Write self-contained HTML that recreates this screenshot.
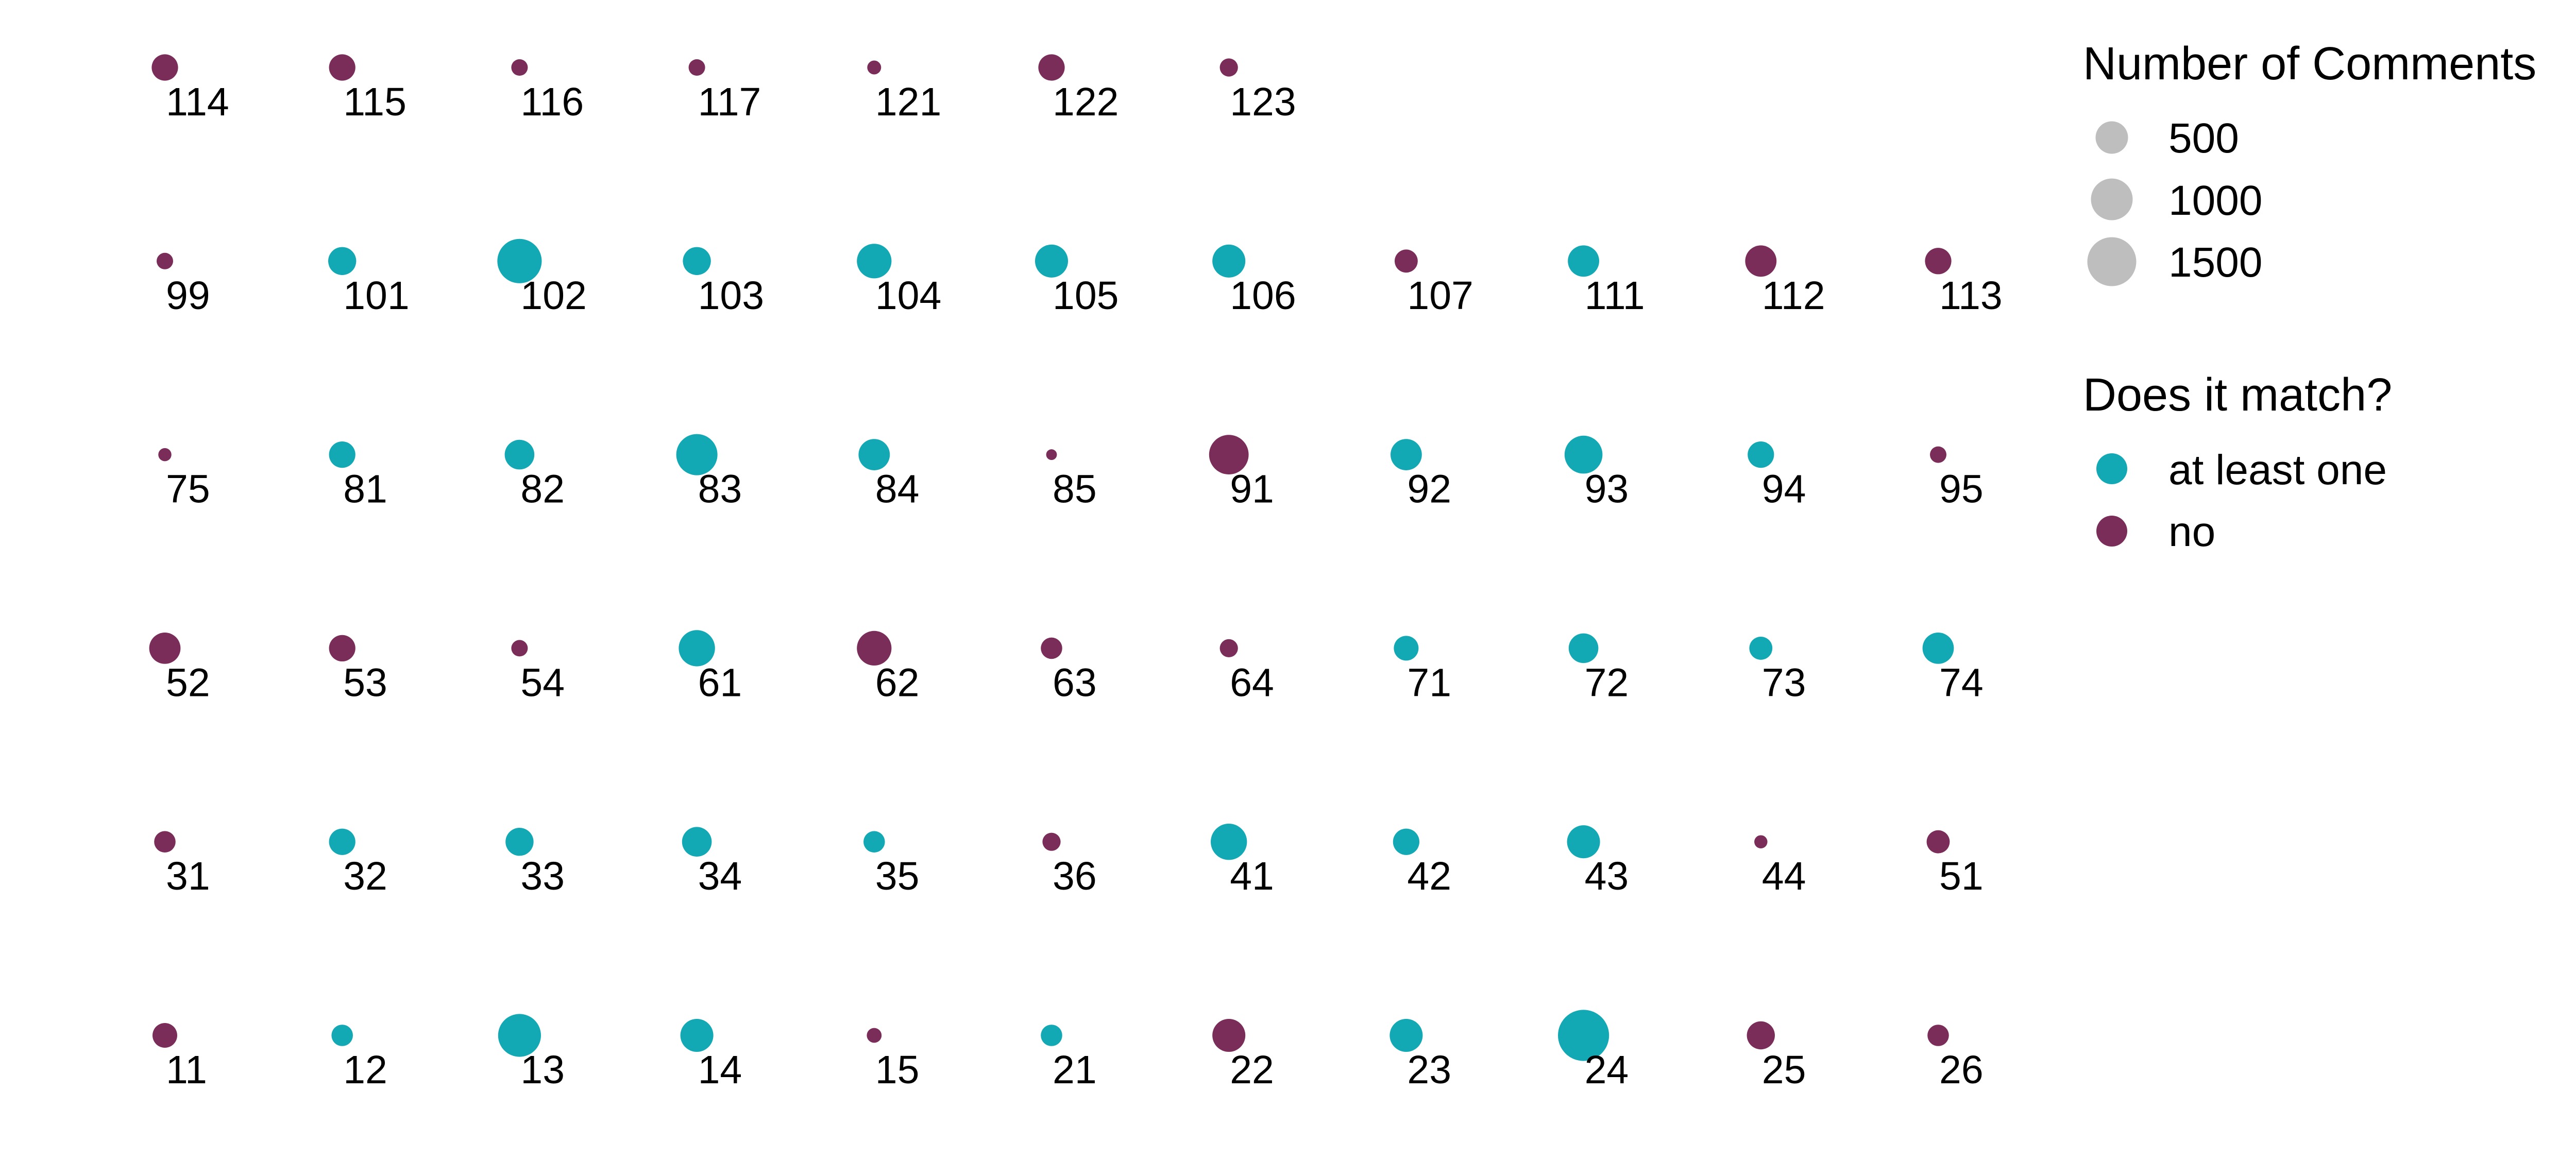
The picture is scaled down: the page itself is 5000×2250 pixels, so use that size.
<!DOCTYPE html>
<html><head><meta charset="utf-8"><style>
html,body{margin:0;padding:0;background:#fff;}
svg{display:block;font-family:"Liberation Sans",Arial,sans-serif;}
</style></head><body>
<svg id="chart" width="5000" height="2250" viewBox="0 0 5000 2250" xmlns="http://www.w3.org/2000/svg">
<rect width="5000" height="2250" fill="#fff"/>
<g id="points"></g>
<g>
<text x="4043" y="154" font-size="90">Number of Comments</text>
<circle cx="4099" cy="267" r="31.5" fill="#bebebe"/>
<circle cx="4099" cy="387" r="40.5" fill="#bebebe"/>
<circle cx="4099" cy="508" r="47.5" fill="#bebebe"/>
<text x="4209" y="296" font-size="82">500</text>
<text x="4209" y="417" font-size="82">1000</text>
<text x="4209" y="537" font-size="82">1500</text>
</g>
<g>
<text x="4043" y="797" font-size="90">Does it match?</text>
<circle cx="4099" cy="910" r="30" fill="#12a9b5"/>
<circle cx="4099" cy="1031" r="30" fill="#7b2d5a"/>
<text x="4209" y="940" font-size="82">at least one</text>
<text x="4209" y="1060" font-size="82">no</text>
</g>
</svg>
<script>
const labels = [
 ["114","115","116","117","121","122","123"],
 ["99","101","102","103","104","105","106","107","111","112","113"],
 ["75","81","82","83","84","85","91","92","93","94","95"],
 ["52","53","54","61","62","63","64","71","72","73","74"],
 ["31","32","33","34","35","36","41","42","43","44","51"],
 ["11","12","13","14","15","21","22","23","24","25","26"]
];
const comments = [
 [276,276,49,49,20,276,74],
 [49,331,1160,331,605,530,530,180,458,458,276],
 [14,276,392,961,458,2,864,458,773,276,49],
 [458,276,49,686,605,139,74,225,392,180,458],
 [139,276,331,392,139,74,686,276,530,14,180],
 [225,139,1063,530,29,139,530,530,1648,331,139]
];
const matches = [
 ["no","no","no","no","no","no","no"],
 ["no","yes","yes","yes","yes","yes","yes","no","yes","no","no"],
 ["no","yes","yes","yes","yes","no","no","yes","yes","yes","no"],
 ["no","no","no","yes","no","no","no","yes","yes","yes","yes"],
 ["no","yes","yes","yes","yes","no","yes","yes","yes","no","no"],
 ["no","yes","yes","yes","no","yes","no","yes","yes","no","no"]
];
const colX = c => 320 + c * 344.2;
const rowY = r => 131 + r * 375.8;
const sizeR = v => 9 + Math.sqrt(Math.max(v, 0));
const colorOf = m => m === "yes" ? "#12a9b5" : "#7b2d5a";
const NS = "http://www.w3.org/2000/svg";
const g = document.getElementById("points");
labels.forEach((row, r) => {
  row.forEach((lab, c) => {
    const x = colX(c), y = rowY(r);
    const circ = document.createElementNS(NS, "circle");
    circ.setAttribute("cx", x);
    circ.setAttribute("cy", y);
    circ.setAttribute("r", sizeR(comments[r][c]));
    circ.setAttribute("fill", colorOf(matches[r][c]));
    
    
    g.appendChild(circ);
    const t = document.createElementNS(NS, "text");
    t.setAttribute("x", x + 2);
    t.setAttribute("y", y + 93);
    t.setAttribute("font-size", "77");
    t.textContent = lab;
    
    
    g.appendChild(t);
  });
});
</script>
</body></html>
